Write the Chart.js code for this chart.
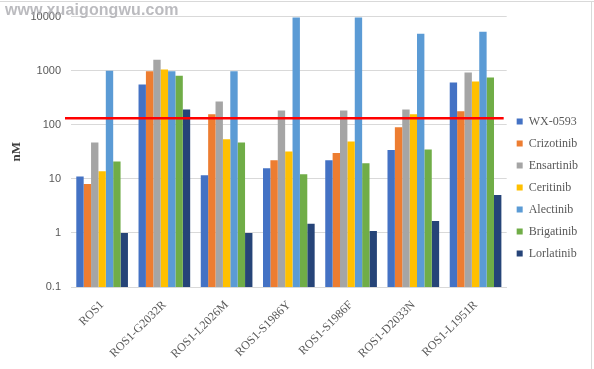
<!DOCTYPE html>
<html><head><meta charset="utf-8">
<script src="https://cdn.jsdelivr.net/npm/chart.js@4"></script>
<style>
html,body{margin:0;padding:0;background:#fff;}
#wrap{position:relative;width:594px;height:369px;overflow:hidden;}
#wm{position:absolute;left:5px;top:1px;font:bold 16px 'Liberation Sans',Arial,sans-serif;color:rgba(170,170,175,0.8);letter-spacing:0.1px;}
.bt{position:absolute;left:0;top:1px;width:594px;height:1px;background:#d9d9d9}
.br{position:absolute;left:591px;top:1px;width:1px;height:368px;background:#d9d9d9}
canvas{position:absolute;left:0;top:0}
</style></head><body>
<div id="wrap"><canvas id="c" width="594" height="369"></canvas><div class="bt"></div><div class="br"></div><div id="wm">www.xuaigongwu.com</div></div>
<script>
const categories = ['ROS1','ROS1-G2032R','ROS1-L2026M','ROS1-S1986Y','ROS1-S1986F','ROS1-D2033N','ROS1-L1951R'];
const seriesNames = ['WX-0593','Crizotinib','Ensartinib','Ceritinib','Alectinib','Brigatinib','Lorlatinib'];
const wx0593     = [11, 555, 11.7, 15.7, 22, 34, 604];
const crizotinib = [8, 980, 156, 22, 30, 90, 177];
const ensartinib = [47, 1600, 270, 184, 184, 192, 923];
const ceritinib  = [13.8, 1050, 54, 32, 49, 156, 630];
const alectinib  = [1000, 980, 980, 9600, 9600, 4800, 5250];
const brigatinib = [21, 810, 47, 12.2, 19.5, 35, 746];
const lorlatinib = [1.0, 192, 1.0, 1.47, 1.09, 1.66, 5.0];
const yTicks = [0.1, 1, 10, 100, 1000, 10000];
const thresholdValue = [132];
const colors = ['#4472C4','#ED7D31','#A5A5A5','#FFC000','#5B9BD5','#70AD47','#264478'];

const seriesData = [wx0593, crizotinib, ensartinib, ceritinib, alectinib, brigatinib, lorlatinib];

const refLine = {
  id: 'refLine',
  afterLayout(chart) {
    if (chart.legend) { chart.legend.top -= 5; chart.legend.bottom -= 5; }
  },
  afterDatasetsDraw(chart) {
    const y = chart.scales.y.getPixelForValue(thresholdValue[0]);
    const ctx = chart.ctx;
    ctx.save();
    ctx.strokeStyle = '#ff0000';
    ctx.lineWidth = 2.5;
    ctx.beginPath();
    ctx.moveTo(chart.chartArea.left - 6, y);
    ctx.lineTo(chart.chartArea.right - 3, y);
    ctx.stroke();
    ctx.restore();
  }
};

new Chart(document.getElementById('c'), {
  type: 'bar',
  data: {
    labels: categories,
    datasets: seriesNames.map((n, i) => ({
      label: n,
      data: seriesData[i],
      backgroundColor: colors[i],
      borderWidth: 0,
      categoryPercentage: 0.83,
      barPercentage: 1.0
    }))
  },
  options: {
    responsive: false,
    animation: false,
    layout: { padding: { top: 16, right: 6, left: 0, bottom: 0 } },
    plugins: {
      tooltip: { enabled: false },
      legend: {
        position: 'right',
        labels: {
          font: { family: "'Liberation Serif','Times New Roman',serif", size: 12 },
          color: '#595959',
          boxWidth: 6,
          boxHeight: 6,
          padding: 10
        }
      }
    },
    scales: {
      x: {
        grid: { display: false },
        border: { display: true, color: '#d9d9d9' },
        ticks: {
          font: { family: "'Liberation Serif','Times New Roman',serif", size: 12 },
          color: '#595959',
          minRotation: 45, maxRotation: 45,
          autoSkip: false,
          padding: 3
        },
        afterFit(scale) { scale.height = 82; }
      },
      y: {
        type: 'logarithmic',
        min: 0.1, max: 10000,
        afterBuildTicks(scale) { scale.ticks = yTicks.map(v => ({ value: v })); },
        grid: { color: '#d9d9d9', drawTicks: false },
        border: { display: false },
        ticks: {
          font: { family: "'Liberation Sans',Arial,sans-serif", size: 11 },
          color: '#595959',
          padding: 10,
          callback: v => String(v)
        },
        title: {
          display: true,
          text: 'nM',
          font: { family: "'Liberation Serif','Times New Roman',serif", size: 13, weight: 'bold' },
          color: '#404040',
          padding: { top: 9, bottom: 0 }
        },
        afterFit(scale) { scale.width = 71; }
      }
    }
  },
  plugins: [refLine]
});
</script>
</body></html>
